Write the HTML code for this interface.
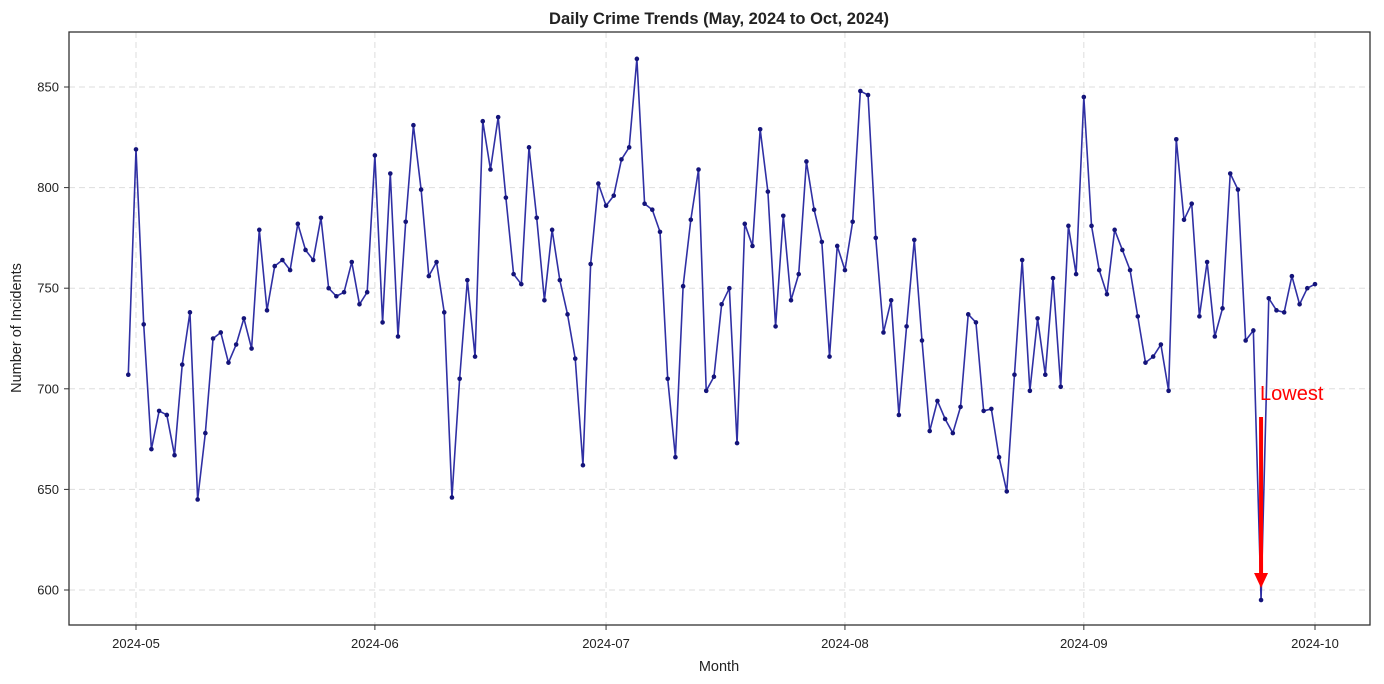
<!DOCTYPE html>
<html><head><meta charset="utf-8"><style>
html,body{margin:0;padding:0;background:#fff;}
svg{display:block;font-family:"Liberation Sans","DejaVu Sans",sans-serif;}
</style></head><body>
<svg id="chart" width="1384" height="684" xmlns="http://www.w3.org/2000/svg">
<text x="719" y="24" text-anchor="middle" font-size="16.5" font-weight="bold" fill="#222">Daily Crime Trends (May, 2024 to Oct, 2024)</text>
<text x="719" y="671" text-anchor="middle" font-size="14.5" fill="#222">Month</text>
<text transform="translate(21,328) rotate(-90)" text-anchor="middle" font-size="14.5" fill="#222">Number of Incidents</text>
<g id="grid"></g>
<g id="axes"></g>
<g id="series"></g>
<g id="annot"></g>
<rect x="69" y="32" width="1301" height="593" fill="none" stroke="#333" stroke-width="1.3"/>
</svg>
<script>
const startDate = "2024-04-30";
const values = [707,819,732,670,689,687,667,712,738,645,678,725,728,713,722,735,720,779,739,761,764,759,782,769,764,785,750,746,748,763,742,748,
816,733,807,726,783,831,799,756,763,738,646,705,754,716,833,809,835,795,757,752,820,785,744,779,754,737,715,662,762,802,
791,796,814,820,864,792,789,778,705,666,751,784,809,699,706,742,750,673,782,771,829,798,731,786,744,757,813,789,773,716,771,
759,783,848,846,775,728,744,687,731,774,724,679,694,685,678,691,737,733,689,690,666,649,707,764,699,735,707,755,701,781,757,
845,781,759,747,779,769,759,736,713,716,722,699,824,784,792,736,763,726,740,807,799,724,729,595,745,739,738,756,742,750,752];
const yTicks = [600,650,700,750,800,850];
const xTickLabels = ["2024-05","2024-06","2024-07","2024-08","2024-09","2024-10"];
const xTickDates = ["2024-05-01","2024-06-01","2024-07-01","2024-08-01","2024-09-01","2024-10-01"];
const annotationLabel = "Lowest";

const NS="http://www.w3.org/2000/svg";
const DAY=86400000;
const t0=Date.parse("2024-05-01"), t1=Date.parse("2024-10-01");
function xs(t){return 136+(t-t0)/(t1-t0)*(1315-136);}
function ys(v){return 590+(v-600)*(87-590)/250;}
function mk(tag,attrs,parent){const e=document.createElementNS(NS,tag);for(const k in attrs)e.setAttribute(k,attrs[k]);parent.appendChild(e);return e;}
const grid=document.getElementById('grid'),axes=document.getElementById('axes'),series=document.getElementById('series'),annot=document.getElementById('annot');
yTicks.forEach(v=>{const y=ys(v);
 const g=mk('line',{x1:69,x2:1370,y1:y,y2:y,stroke:'#ddd','stroke-dasharray':'6,4','stroke-width':1},grid);
 
 
 const tk=mk('line',{x1:64,x2:69,y1:y,y2:y,stroke:'#333'},axes);
 
 
 const tx=mk('text',{x:59,y:y+4.5,'text-anchor':'end','font-size':13,fill:'#222'},axes);tx.textContent=v;
 
 
});
xTickDates.forEach((d,i)=>{const x=xs(Date.parse(d));
 const g=mk('line',{x1:x,x2:x,y1:32,y2:625,stroke:'#ddd','stroke-dasharray':'6,4','stroke-width':1},grid);
 
 
 const tk=mk('line',{x1:x,x2:x,y1:625,y2:630,stroke:'#333'},axes);
 
 
 const tx=mk('text',{x:x,y:648,'text-anchor':'middle','font-size':13,fill:'#222'},axes);tx.textContent=xTickLabels[i];
 
 
});
const s0=Date.parse(startDate);
const pts=values.map((v,i)=>[xs(s0+i*DAY),ys(v)]);
const line=mk('polyline',{points:pts.map(p=>p.join(',')).join(' '),fill:'none',stroke:'#1a1a9a','stroke-opacity':0.9,'stroke-width':1.6,'stroke-linejoin':'round'},series);


pts.forEach(p=>{const c=mk('circle',{cx:p[0],cy:p[1],r:2.3,fill:'#14147a'},series);
 
 
});
let mi=0;values.forEach((v,i)=>{if(v<values[mi])mi=i;});
const ax=pts[mi][0],ay=pts[mi][1];
const shaft=mk('line',{x1:ax,x2:ax,y1:ay-183,y2:ay-24,stroke:'#ff0000','stroke-width':4},annot);


const head=mk('polygon',{points:`${ax-7},${ay-27} ${ax+7},${ay-27} ${ax},${ay-12}`,fill:'#ff0000'},annot);


const lt=mk('text',{x:ax-1,y:ay-200,'font-size':20,fill:'#ff0000'},annot);lt.textContent=annotationLabel;


</script>
</body></html>
